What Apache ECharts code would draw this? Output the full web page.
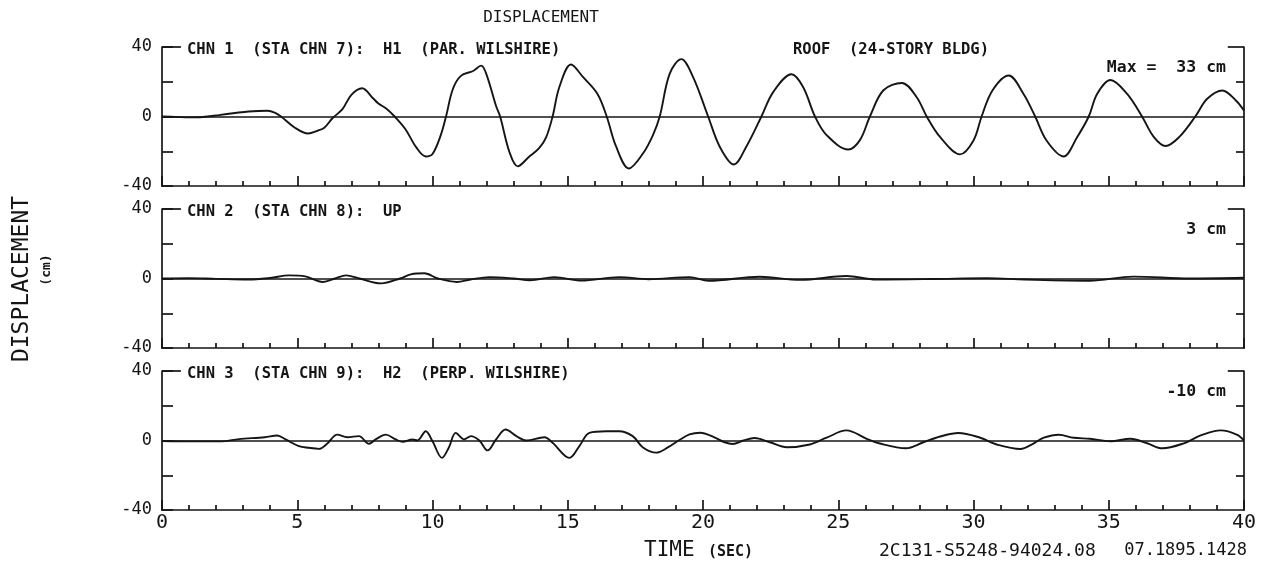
<!DOCTYPE html>
<html>
<head>
<meta charset="utf-8">
<title>Displacement</title>
<script src="https://cdn.jsdelivr.net/npm/echarts@6/dist/echarts.min.js"></script>
<style>
  html, body { margin: 0; padding: 0; background: #ffffff; }
  #chart { width: 1275px; height: 575px; }
</style>
</head>
<body>
<div id="chart"></div>
<script>
// Time-axis ticks (seconds) and displacement-axis ticks (cm)
const timeTicks = [0, 5, 10, 15, 20, 25, 30, 35, 40];
const dispTicks = [-40, 0, 40];

// Channel labels
const chnLabels = [
  'CHN 1  (STA CHN 7):  H1  (PAR. WILSHIRE)',
  'CHN 2  (STA CHN 8):  UP',
  'CHN 3  (STA CHN 9):  H2  (PERP. WILSHIRE)'
];
const peakLabels = ['Max =  33 cm', '3 cm', '-10 cm'];

// CHN 1: H1 (par. Wilshire), [time s, displacement cm]
const chn1 = [
  [0,0],[0.5,-0.2],[1,-0.5],[1.5,-0.3],[2.1,0.8],[2.7,2],[3.2,2.9],[3.9,3.3],[4.2,2],[4.4,0],
  [4.9,-6.3],[5.4,-9.8],[5.75,-8.2],[6.0,-6.5],[6.3,-1],[6.67,4.2],[7.0,12.5],[7.4,16.3],
  [7.8,10.5],[8.0,7.5],[8.3,4.5],[8.6,0],[9.0,-7.3],[9.4,-17.8],[9.75,-23],[10.0,-21.6],
  [10.3,-11],[10.5,0],[10.75,15.7],[11.05,23.4],[11.5,26.2],[11.8,29.3],[12.0,24],[12.35,6],
  [12.5,0],[12.85,-20.7],[13.15,-28.7],[13.55,-23.5],[13.95,-18],[14.2,-12],[14.44,0],
  [14.69,17],[15.12,29.9],[15.56,22.8],[16.1,13],[16.44,0],[16.79,-17.4],[17.26,-29.9],
  [17.78,-21.3],[18.15,-10.7],[18.4,0],[18.77,24.7],[19.2,33],[19.63,22.8],[20.19,0],
  [20.62,-17.4],[21.14,-27.6],[21.6,-17.4],[22.16,0],[22.6,14.2],[23.27,24.3],[23.7,17],
  [24.14,0],[24.57,-10.7],[25.37,-19],[25.8,-13.6],[26.17,0],[26.67,15.1],[27.35,19.3],
  [27.9,11.1],[28.27,0],[28.77,-11.9],[29.5,-21.8],[30.0,-13.8],[30.3,0],[30.7,15],
  [31.3,23.6],[31.85,13],[32.28,0],[32.7,-13.8],[33.33,-23],[33.83,-11.9],[34.26,0],
  [34.57,13],[35.06,21],[35.68,13],[36.23,0],[36.67,-11.9],[37.1,-17],[37.6,-11.9],
  [38.2,0],[38.64,10.2],[39.2,15],[39.7,9.2],[40,3.4]
];

// CHN 2: vertical
const chn2 = [
  [0,0],[1,0.2],[2,-0.2],[3.2,-0.6],[4,0.3],[4.7,1.8],[5.3,1.2],[5.95,-2],[6.4,0],[6.8,1.8],
  [7.3,0],[8.1,-2.8],[8.8,0],[9.2,2.4],[9.7,3],[10.2,0],[10.9,-2],[11.4,-0.6],[12.1,0.8],
  [13.0,0],[13.6,-1],[14.5,0.8],[15.5,-1.2],[16.9,0.8],[18.0,-0.4],[19.5,0.8],[20.2,-1.3],
  [22.1,1],[23.6,-0.8],[25.3,1.4],[26.4,-0.6],[28.5,-0.3],[30.5,0.2],[31.9,-0.6],
  [34.3,-1.3],[35.9,1.1],[38.0,0],[40,0.4]
];

// CHN 3: H2 (perp. Wilshire)
const chn3 = [
  [0,-0.3],[1,-0.5],[2.2,-0.5],[2.84,0.8],[3.8,1.9],[4.26,2.9],[4.57,0.6],[5.06,-3.2],
  [5.43,-4.2],[5.8,-4.8],[6.1,-1.9],[6.48,3.4],[6.85,1.9],[7.28,2.5],[7.65,-1.9],[7.9,0.6],
  [8.27,3.4],[8.64,0.6],[8.9,-0.8],[9.26,0.6],[9.44,0],[9.75,5.3],[10.0,-0.4],[10.35,-10],
  [10.6,-4.2],[10.86,4.4],[11.17,0.6],[11.42,2.5],[11.73,0],[12.04,-5.7],[12.35,0.6],
  [12.7,6.3],[13.1,2.5],[13.46,0],[14.14,1.9],[14.44,-1.3],[15.06,-10],[15.43,-3.2],
  [15.8,4.4],[16.42,5.3],[16.9,5.3],[17.4,2.5],[17.78,-4],[18.27,-7],[18.7,-4],[19.1,0],
  [19.5,3.5],[19.9,4.5],[20.4,2],[20.8,-1],[21.1,-2],[21.5,0],[21.9,1.4],[22.47,-1],
  [23.1,-3.9],[23.95,-2.3],[24.57,1.6],[25.3,5.8],[26.05,1],[26.5,-1.6],[27.5,-4.5],
  [28.15,-1],[28.77,2.3],[29.44,4.3],[30.25,1.6],[30.86,-2.3],[31.73,-4.9],[32.2,-1.9],
  [32.6,1.6],[33.15,3.3],[33.7,1.6],[34.3,1],[35.06,-0.4],[35.8,1],[36.42,-1.6],
  [36.98,-4.5],[37.78,-1.6],[38.4,2.9],[39.14,5.8],[39.75,3.3],[40,0]
];

const channels = [chn1, chn2, chn3];

const INK = '#151515';
const MONO = '"DejaVu Sans Mono", "Liberation Mono", monospace';
const tMin = timeTicks[0], tMax = timeTicks[timeTicks.length - 1];
const dMin = dispTicks[0], dMax = dispTicks[dispTicks.length - 1];

const gridLeft = 162, gridRight = 31, gridH = 139;
const gridTops = [47, 209, 371];

const grids = [], xAxes = [], yAxes = [], series = [], graphics = [];

gridTops.forEach((top, i) => {
  grids.push({ left: gridLeft, right: gridRight, top: top, height: gridH, containLabel: false });

  xAxes.push({
    type: 'value', gridIndex: i, min: tMin, max: tMax,
    interval: timeTicks[1] - timeTicks[0],
    axisLine: { show: true, onZero: false, lineStyle: { color: INK, width: 1.7 } },
    axisTick: { show: true, inside: true, length: 10, lineStyle: { color: INK, width: 1.7 } },
    minorTick: { show: true, splitNumber: 5, length: 5, lineStyle: { color: INK, width: 1.7 } },
    splitLine: { show: false },
    axisLabel: {
      show: i === 2, margin: 3, color: INK, fontSize: 20, fontFamily: MONO
    }
  });

  // left displacement axis
  yAxes.push({
    type: 'value', gridIndex: i, position: 'left', min: dMin, max: dMax,
    interval: dispTicks[1] - dispTicks[0],
    axisLine: { show: true, onZero: false, lineStyle: { color: INK, width: 1.7 } },
    axisTick: { show: true, inside: true, length: 11, lineStyle: { color: INK, width: 1.7 } },
    minorTick: { show: true, splitNumber: 2, length: 11, lineStyle: { color: INK, width: 1.7 } },
    splitLine: { show: false },
    axisLabel: { show: true, margin: 10, color: INK, fontSize: 17, fontFamily: MONO }
  });
  // right frame axis
  yAxes.push({
    type: 'value', gridIndex: i, position: 'right', min: dMin, max: dMax,
    interval: dispTicks[1] - dispTicks[0],
    axisLine: { show: true, onZero: false, lineStyle: { color: INK, width: 1.7 } },
    axisTick: { show: false, inside: true },
    minorTick: { show: true, splitNumber: 2, length: 8, lineStyle: { color: INK, width: 1.7 } },
    splitLine: { show: false },
    axisLabel: { show: false }
  });

  series.push({
    type: 'line', xAxisIndex: i, yAxisIndex: i * 2,
    data: channels[i], smooth: 0.35, showSymbol: false, symbol: 'none',
    lineStyle: { color: INK, width: 1.9 },
    silent: true, animation: false,
    markLine: {
      silent: true, symbol: 'none', animation: false,
      label: { show: false },
      lineStyle: { color: INK, width: 1.7, type: 'solid' },
      data: [
        { yAxis: 0 },
        [{ coord: [tMin, dMax] }, { coord: [0.7, dMax] }],
        [{ coord: [39.4, dMax] }, { coord: [tMax, dMax] }]
      ]
    }
  });

  graphics.push({
    type: 'text', x: 187, y: top + 3,
    style: { text: chnLabels[i], fill: INK, fontSize: 15.5, fontWeight: 'bold', fontFamily: MONO, align: 'left', verticalAlign: 'middle' }
  });
  graphics.push({
    type: 'text', x: 1226, y: top + 21,
    style: { text: peakLabels[i], fill: INK, fontSize: 16.5, fontWeight: 'bold', fontFamily: MONO, align: 'right', verticalAlign: 'middle' }
  });
});

graphics.push(
  { type: 'text', x: 793, y: gridTops[0] + 3,
    style: { text: 'ROOF  (24-STORY BLDG)', fill: INK, fontSize: 15.5, fontWeight: 'bold', fontFamily: MONO, align: 'left', verticalAlign: 'middle' } },
  { type: 'text', x: 541, y: 18,
    style: { text: 'DISPLACEMENT', fill: INK, fontSize: 16, fontFamily: MONO, align: 'center', verticalAlign: 'middle' } },
  { type: 'text', x: 22, y: 279, rotation: Math.PI / 2,
    style: { text: 'DISPLACEMENT', fill: INK, fontSize: 23, fontFamily: MONO, align: 'center', verticalAlign: 'middle' } },
  { type: 'text', x: 47, y: 270, rotation: Math.PI / 2,
    style: { text: '(cm)', fill: INK, fontSize: 13, fontWeight: 'bold', fontFamily: MONO, align: 'center', verticalAlign: 'middle' } },
  { type: 'text', x: 644, y: 551,
    style: { text: 'TIME', fill: INK, fontSize: 21, fontFamily: MONO, align: 'left', verticalAlign: 'middle' } },
  { type: 'text', x: 708, y: 552,
    style: { text: '(SEC)', fill: INK, fontSize: 15, fontWeight: 'bold', fontFamily: MONO, align: 'left', verticalAlign: 'middle' } },
  { type: 'text', x: 879, y: 551,
    style: { text: '2C131-S5248-94024.08', fill: INK, fontSize: 18, fontFamily: MONO, align: 'left', verticalAlign: 'middle' } },
  { type: 'text', x: 1247, y: 551,
    style: { text: '07.1895.1428', fill: INK, fontSize: 17, fontFamily: MONO, align: 'right', verticalAlign: 'middle' } }
);

const chart = echarts.init(document.getElementById('chart'), null, { renderer: 'canvas' });
chart.setOption({
  backgroundColor: '#ffffff',
  animation: false,
  grid: grids,
  xAxis: xAxes,
  yAxis: yAxes,
  series: series,
  graphic: graphics
});
</script>
</body>
</html>
